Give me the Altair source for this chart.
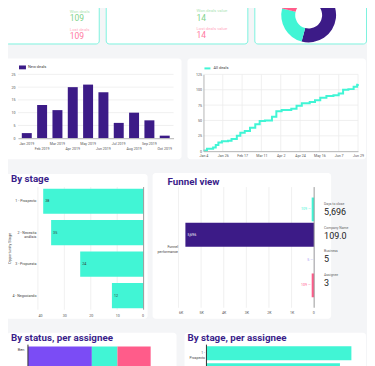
import json
import altair as alt
import pandas as pd

# ---------------- data ----------------
won_lost_names = ["Won deals", "Lost deals"]
won_lost_counts = ["109", "109"]
value_names = ["Won deals value", "Lost deals value"]
value_counts = ["14", "14"]

donut_status = ["Open", "Won", "Lost"]
donut_counts = [59, 27, 23]

months = ["Jan 2019", "Feb 2019", "Mar 2019", "Apr 2019", "May 2019",
          "Jun 2019", "Jul 2019", "Aug 2019", "Sep 2019", "Oct 2019"]
new_deals = [2, 13, 11, 20, 21, 18, 6, 10, 7, 1]
new_deals_ticks = [0, 5, 10, 15, 20, 25]

cum_dates = ["2019-01-04", "2019-01-08", "2019-01-15", "2019-01-18", "2019-01-21",
             "2019-01-25", "2019-02-01", "2019-02-05", "2019-02-11", "2019-02-15",
             "2019-02-20", "2019-02-26", "2019-03-04", "2019-03-09", "2019-03-15",
             "2019-03-23", "2019-03-28", "2019-04-03", "2019-04-14", "2019-04-20",
             "2019-04-26", "2019-05-05", "2019-05-11", "2019-05-17", "2019-05-24",
             "2019-06-01", "2019-06-07", "2019-06-12", "2019-06-18", "2019-06-24",
             "2019-06-28", "2019-06-29"]
cum_values = [1, 4, 6, 10, 14, 16, 17, 20, 25, 30, 33, 38, 44, 49, 50, 56, 65, 67,
              69, 74, 78, 80, 83, 87, 90, 91, 94, 100, 101, 105, 108, 109]
line_tick_dates = ["2019-01-04", "2019-01-26", "2019-02-17", "2019-03-11", "2019-04-02",
                   "2019-04-24", "2019-05-16", "2019-06-07", "2019-06-29"]
line_ticks_y = [0, 25, 50, 75, 100, 125]

stages = ["1 - Prospecto", "2 - Necesita análisis", "3 - Propuesta", "4 - Negociando"]
stage_counts = [38, 35, 24, 12]
stage_ticks = [0, 10, 20, 30, 40]

funnel_category = "Funnel performance"
funnel_metrics = ["Company Name", "Days to close", "Business", "Assignee"]
funnel_values = [109, 5696, 5, 109]
funnel_ticks = [0, 1000, 2000, 3000, 4000, 5000, 6000]

side_kpis = ["Days to close", "Company Name", "Business", "Assignee"]
side_values = ["5,696", "109.0", "5", "3"]

assignees = ["Ben"]
status_names = ["Open", "Won", "Lost"]
ben_values = [50, 20, 26]

# ---------------- style ----------------
FONT = "Roboto"
BG = "#f4f5f7"
PURPLE = "#3c1b87"
CYAN = "#41f5d5"
PINK = "#ff5c8a"
SPURPLE = "#7b4cf5"
LAV = "#a596f2"
TITLE = "#3a1d8a"
GRID = "#ececec"
BORDER = "#7df2df"
LABEL = "#555555"
GREEN = "#7fd38b"
GREEN_L = "#ade5b4"
PINK_T = "#ff7a9f"
PINK_L = "#ffa9c1"
TICK_FS = 3.6

one = pd.DataFrame({"k": [0]})


def to_dt(s):
    return alt.DateTime(year=int(s[:4]), month=int(s[5:7]), date=int(s[8:10]))


def local(s):
    return s + "T00:00:00"


def card(x1, y1, x2, y2, stroke=None):
    props = dict(fill="white", cornerRadius=3)
    if stroke:
        props.update(stroke=stroke, strokeWidth=1)
    return alt.Chart(one).mark_rect(**props).encode(
        x=alt.value(x1), y=alt.value(y1), x2=alt.value(x2), y2=alt.value(y2))


def blank(x1, y1, x2, y2):
    return alt.Chart(one).mark_rect(opacity=0).encode(
        x=alt.value(x1), y=alt.value(y1), x2=alt.value(x2), y2=alt.value(y2))


def spacer(w):
    return blank(0, 0, w, 1).properties(width=w, height=1)


def heading(text, x, y):
    return alt.Chart(pd.DataFrame({"t": [text]})).mark_text(
        align="left", baseline="middle", fontSize=9.8, fontWeight="bold", color=TITLE
    ).encode(text="t:N", x=alt.value(x), y=alt.value(y))


# ---------------- row A: KPI cards ----------------
def kpi_panel(names, values, w, xtext, num_range, extra=None):
    df = pd.DataFrame({"name": names, "val": values})
    yk = alt.Y("name:N", scale=alt.Scale(type="point", domain=names, range=num_range, padding=0), axis=None)
    lab = alt.Chart(df).mark_text(align="left", baseline="middle", fontSize=4.3, dy=-6.5).encode(
        x=alt.value(xtext), y=yk, text="name:N",
        color=alt.Color("name:N", scale=alt.Scale(domain=names, range=[GREEN_L, PINK_L]), legend=None))
    num = alt.Chart(df).mark_text(align="left", baseline="middle", fontSize=8.5).encode(
        x=alt.value(xtext), y=yk, text="val:N",
        color=alt.Color("name:N", scale=alt.Scale(domain=names, range=[GREEN, PINK_T]), legend=None))
    layers = [card(0.5, -20, w - 0.5, 43.5, BORDER), lab, num]
    if extra is not None:
        layers.append(extra)
    return alt.layer(*layers).resolve_scale(color="independent").properties(width=w, height=44)


A1 = kpi_panel(won_lost_names, won_lost_counts, 95, 65, [17.5, 35.5], extra=blank(0, -40, 1, -39))
A2 = kpi_panel(value_names, value_counts, 143, 91, [17, 34.5])

df_donut = pd.DataFrame({"status": donut_status, "n": donut_counts, "k": list(range(len(donut_status)))})
donut = alt.Chart(df_donut).mark_arc(innerRadius=13.5, outerRadius=27.5).encode(
    theta=alt.Theta("n:Q", stack=True),
    color=alt.Color("status:N", scale=alt.Scale(domain=donut_status, range=[PURPLE, CYAN, PINK]), legend=None),
    order=alt.Order("k:Q"),
    x=alt.value(54.5), y=alt.value(14.5))
A3 = alt.layer(card(0.5, -20, 112.5, 43.5, BORDER), donut).properties(width=113, height=44)

# ---------------- row B ----------------
df_new = pd.DataFrame({"month": months, "deals": new_deals, "series": ["New deals"] * len(months)})
odd = json.dumps(months[1::2])
xB1 = alt.X("month:N", sort=months, scale=alt.Scale(paddingInner=0.35, paddingOuter=0.25),
            axis=alt.Axis(title=None, labelAngle=0, labelOverlap=False, ticks=False, domainColor="#b5b5b5",
                          labelPadding=3, labelFontSize=TICK_FS, labelLineHeight=5, zindex=1,
                          labelExpr=f"indexof({odd}, datum.value) >= 0 ? ['', datum.label] : datum.label"))
yB1 = alt.Y("deals:Q", scale=alt.Scale(domain=[0, 25], nice=False),
            axis=alt.Axis(title=None, values=new_deals_ticks, ticks=False, domain=False,
                          labelFontSize=TICK_FS, labelPadding=3, zindex=1))
gridB1 = alt.Chart(pd.DataFrame({"deals": new_deals_ticks[1:]})).mark_rule(color=GRID, strokeWidth=0.8).encode(y=yB1)
barsB1 = alt.Chart(df_new).mark_bar().encode(
    x=xB1, y=yB1,
    color=alt.Color("series:N", scale=alt.Scale(range=[PURPLE]),
                    legend=alt.Legend(orient="none", legendX=1, legendY=-10.5, title=None, padding=0,
                                      symbolType="M-1,-0.55L1,-0.55L1,0.55L-1,0.55Z", symbolSize=49,
                                      symbolStrokeWidth=0, labelFontSize=4, labelOffset=2, labelColor="#444")))
B1 = alt.layer(card(-15, -16, 164, 85), gridB1, barsB1).properties(width=156, height=64)

df_line = pd.DataFrame({"date": [local(d) for d in cum_dates], "deals": cum_values,
                        "series": ["All deals"] * len(cum_dates)})
xB2 = alt.X("date:T", scale=alt.Scale(domain=[to_dt(line_tick_dates[0]), to_dt(line_tick_dates[-1])], nice=False),
            axis=alt.Axis(title=None, values=[to_dt(d) for d in line_tick_dates], format="%b %-d",
                          labelFlush=False, labelOverlap=False, ticks=False, domainColor="#b5b5b5",
                          labelFontSize=TICK_FS, labelPadding=2, zindex=1))
yB2 = alt.Y("deals:Q", scale=alt.Scale(domain=[0, 125], nice=False),
            axis=alt.Axis(title=None, values=line_ticks_y, ticks=False, domainColor="#b5b5b5",
                          labelFontSize=TICK_FS, labelPadding=2, zindex=1))
gridB2y = alt.Chart(pd.DataFrame({"deals": line_ticks_y[1:]})).mark_rule(color=GRID, strokeWidth=0.8).encode(y=yB2)
gridB2x = alt.Chart(pd.DataFrame({"date": [local(d) for d in line_tick_dates[1:]]})).mark_rule(
    color=GRID, strokeWidth=0.8).encode(x=xB2)
lineB2 = alt.Chart(df_line).mark_line(interpolate="step-after", strokeWidth=2).encode(
    x=xB2, y=yB2,
    color=alt.Color("series:N", scale=alt.Scale(range=[CYAN]),
                    legend=alt.Legend(orient="none", legendX=0, legendY=-10, title=None, padding=0,
                                      symbolType="stroke", symbolSize=36, symbolStrokeWidth=2,
                                      labelFontSize=4, labelOffset=2, labelColor="#444")))
B2 = alt.layer(card(-16, -16, 163, 85), gridB2x, gridB2y, lineB2).properties(width=155, height=77)

# ---------------- row C ----------------
df_stage = pd.DataFrame({"stage": stages, "count": stage_counts})
xC1 = alt.X("count:Q", scale=alt.Scale(domain=[0, 40], reverse=True, nice=False),
            axis=alt.Axis(title=None, values=stage_ticks, ticks=False, domain=False, labelFontSize=TICK_FS,
                          labelPadding=4, zindex=1))
yC1 = alt.Y("stage:N", sort=stages, scale=alt.Scale(paddingInner=0.2, paddingOuter=0.05),
            axis=alt.Axis(title="Opportunity Stage", titleFontSize=3.9, titleFontWeight="normal", titleColor="#444",
                          titleX=-28.5, titleY=61, titleAngle=270, titleAlign="center", titleBaseline="middle",
                          ticks=False, domain=False, labelFontSize=TICK_FS, labelPadding=2, labelLimit=80,
                          labelLineHeight=4.5, labelColor="#444", zindex=1,
                          labelExpr="datum.label == '2 - Necesita análisis' ? ['2 - Necesita', 'análisis'] : datum.label"))
gridC1 = alt.Chart(pd.DataFrame({"count": stage_ticks[1:]})).mark_rule(color=GRID, strokeWidth=0.8).encode(x=xC1)
zeroC1 = alt.Chart(pd.DataFrame({"count": [0]})).mark_rule(color="#9a9a9a", strokeWidth=1).encode(x=xC1)
barsC1 = alt.Chart(df_stage).mark_bar(color=CYAN).encode(x=xC1, y=yC1)
textC1 = alt.Chart(df_stage).mark_text(align="left", baseline="middle", dx=2, fontSize=3.6, color="#333").encode(
    x=xC1, y=yC1, text="count:Q")
C1 = alt.layer(card(-32, -13, 110, 132), heading("By stage", -27, -8), gridC1, barsC1, zeroC1, textC1).properties(
    width=106, height=123)

df_funnel = pd.DataFrame({"cat": [funnel_category] * len(funnel_metrics), "metric": funnel_metrics,
                          "value": funnel_values})
xC2 = alt.X("value:Q", scale=alt.Scale(domain=[0, 6000], reverse=True, nice=False),
            axis=alt.Axis(title=None, values=funnel_ticks, ticks=False, domain=False, labelFontSize=TICK_FS,
                          labelPadding=3, zindex=1,
                          labelExpr="datum.value == 0 ? '0' : (datum.value / 1000) + 'K'"))
yC2 = alt.Y("cat:N", scale=alt.Scale(paddingInner=0, paddingOuter=0.105),
            axis=alt.Axis(title=None, ticks=False, domain=False, labelFontSize=TICK_FS, labelPadding=1,
                          labelLineHeight=4.5, labelColor="#444", zindex=1, labelExpr="split(datum.label, ' ')"))
yoffC2 = alt.YOffset("metric:N", sort=funnel_metrics, scale=alt.Scale(paddingInner=0.06, paddingOuter=0))
colC2 = alt.Color("metric:N", scale=alt.Scale(domain=funnel_metrics, range=[CYAN, PURPLE, LAV, PINK]), legend=None)
gridC2 = alt.Chart(pd.DataFrame({"value": funnel_ticks[1:]})).mark_rule(color=GRID, strokeWidth=0.8).encode(x=xC2)
zeroC2 = alt.Chart(pd.DataFrame({"value": [0]})).mark_rule(color="#9a9a9a", strokeWidth=1).encode(x=xC2)
barsC2 = alt.Chart(df_funnel).mark_bar().encode(x=xC2, y=yC2, yOffset=yoffC2, color=colC2)
smallC2 = alt.Chart(df_funnel).transform_filter("datum.value < 1000").transform_calculate(
    lbl="format(datum.value, ',') + ' —'").mark_text(align="right", baseline="middle", dx=-1, fontSize=3.6).encode(
    x=xC2, y=yC2, yOffset=yoffC2, text="lbl:N", color=colC2)
bigC2 = alt.Chart(df_funnel).transform_filter("datum.value >= 1000").mark_text(
    align="left", baseline="middle", dx=2, fontSize=3.6, color="white").encode(
    x=xC2, y=yC2, yOffset=yoffC2, text=alt.Text("value:Q", format=","))
innerC2 = alt.layer(card(-26, -14, 153, 132), heading("Funnel view", -11, -5), gridC2, barsC2, zeroC2, smallC2, bigC2)

df_side = pd.DataFrame({"kpi": side_kpis, "val": side_values})
ySide = alt.Y("kpi:N", scale=alt.Scale(type="point", domain=side_kpis, range=[25, 96], padding=0), axis=None)
sideLab = alt.Chart(df_side).mark_text(align="left", baseline="middle", fontSize=3.4, color="#666", dy=-8).encode(
    x=alt.value(146), y=ySide, text="kpi:N")
sideNum = alt.Chart(df_side).mark_text(align="left", baseline="middle", fontSize=9, color="#222").encode(
    x=alt.value(146), y=ySide, text="val:N")
C2 = alt.layer(innerC2, sideLab, sideNum).resolve_scale(y="independent").properties(width=136, height=121)

# ---------------- row D ----------------
df_ben = pd.DataFrame({"assignee": assignees * len(status_names), "status": status_names, "value": ben_values,
                       "k": list(range(len(status_names)))})
xD1 = alt.X("value:Q", stack="zero", scale=alt.Scale(domain=[0, 110], nice=False), axis=None)
yD1 = alt.Y("assignee:N", scale=alt.Scale(paddingInner=0, paddingOuter=0.05),
            axis=alt.Axis(title=None, ticks=False, domain=False, labelFontSize=3.9, labelPadding=4,
                          labelOffset=-15, labelColor="#444", zindex=1))
barsD1 = alt.Chart(df_ben).mark_bar().encode(
    x=xD1, y=yD1,
    color=alt.Color("status:N", scale=alt.Scale(domain=status_names, range=[SPURPLE, CYAN, PINK]), legend=None),
    order=alt.Order("k:Q"))
zeroD1 = alt.Chart(pd.DataFrame({"value": [0]})).mark_rule(color="#333", strokeWidth=1).encode(
    x=alt.X("value:Q", scale=alt.Scale(domain=[0, 110], nice=False), axis=None))
D1 = alt.layer(card(-21, -12, 149, 45), heading("By status, per assignee", -17, -7), barsD1, zeroD1).properties(
    width=141, height=40)

xD2 = alt.X("count:Q", scale=alt.Scale(domain=[0, 40], nice=False), axis=None)
yD2 = alt.Y("stage:N", sort=stages, scale=alt.Scale(paddingInner=0.18, paddingOuter=0.1),
            axis=alt.Axis(title=None, values=stages[:1], ticks=False, domain=False, labelFontSize=3.4,
                          labelPadding=2, labelLineHeight=5, labelColor="#444", zindex=1,
                          labelExpr="[substring(datum.label, 0, 3), substring(datum.label, 4)]"))
barsD2 = alt.Chart(df_stage).mark_bar(color=CYAN).encode(x=xD2, y=yD2)
zeroD2 = alt.Chart(pd.DataFrame({"count": [0]})).mark_rule(color="#333", strokeWidth=1).encode(x=xD2)
D2 = alt.layer(card(-22, -12, 160, 72), heading("By stage, per assignee", -19, -7), barsD2, zeroD2).properties(
    width=153, height=68)

# ---------------- assemble ----------------
rowA = alt.hconcat(spacer(3), A1, A2, A3, spacing=6).resolve_scale(color="independent")
rowB = alt.hconcat(spacer(1), B1, B2, spacing=6).resolve_scale(color="independent")
rowC = alt.hconcat(spacer(5), C1, C2, spacing=5).resolve_scale(color="independent")
rowD = alt.hconcat(spacer(3), D1, D2, spacing=8).resolve_scale(color="independent")

chart = alt.vconcat(rowA, rowB, rowC, rowD, spacing=14).resolve_scale(color="independent").properties(
    padding={"top": -48, "left": -12, "right": 0, "bottom": 0}, background=BG
).configure(font=FONT).configure_view(strokeWidth=0).configure_axis(
    zindex=1, grid=False, labelColor=LABEL, labelFont=FONT, titleFont=FONT
).configure_legend(zindex=1, labelFont=FONT)

chart.save("out.html", embed_options={"renderer": "svg", "actions": False})
